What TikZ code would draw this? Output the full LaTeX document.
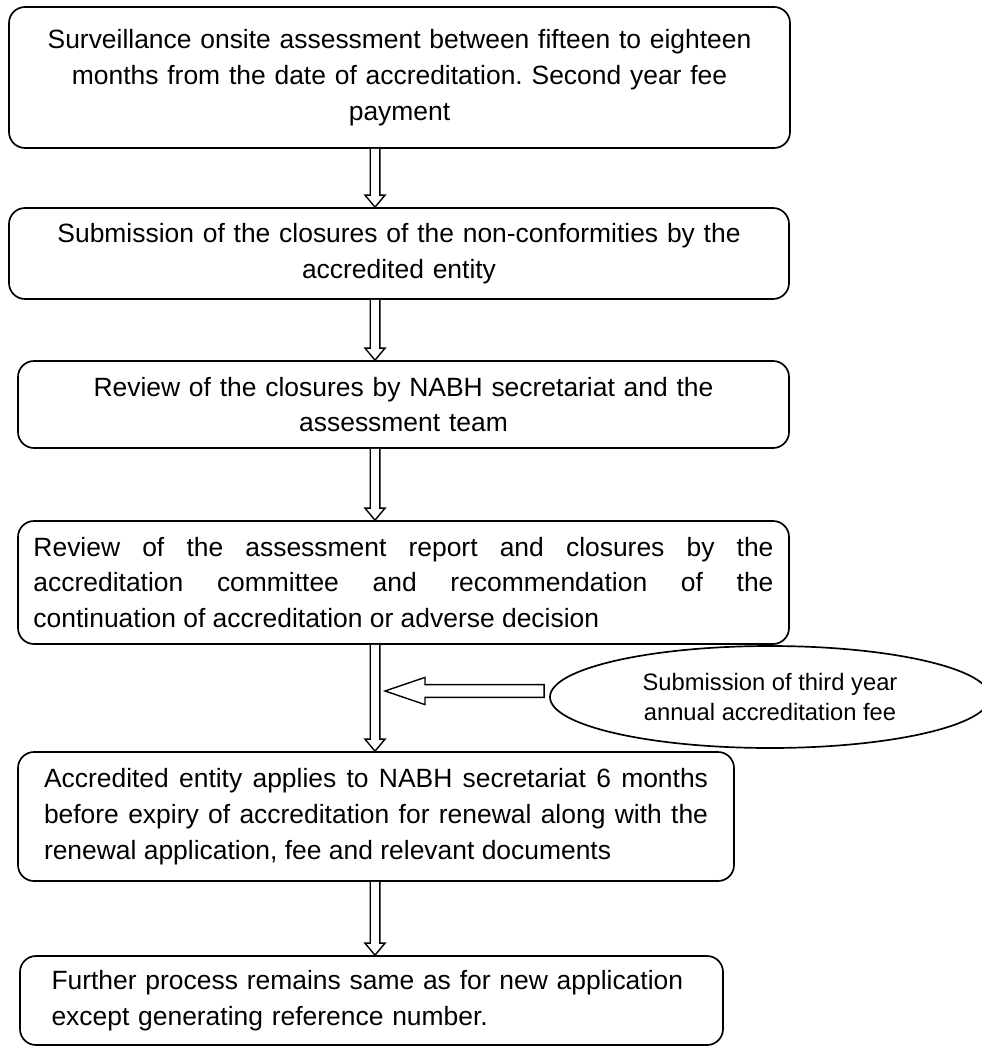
\documentclass[tikz,border=0pt]{standalone}
\usepackage{fontspec}
\setmainfont{Liberation Sans}
\usetikzlibrary{calc,shapes.geometric}
\tolerance=10000
\frenchspacing

\tikzset{
  stage/.style={draw, line width=1.2pt, rounded corners=0.4cm, inner sep=0pt,
    font=\fontsize{18.8pt}{25.5pt}\selectfont},
  feenote/.style={draw, ellipse, line width=1.2pt, inner sep=0pt, align=center,
    minimum width=11cm, minimum height=2.55cm,
    font=\fontsize{16.9pt}{21.3pt}\selectfont},
  hollow/.style={draw, line width=1pt, fill=white}
}

% hollow block arrows: from #1 down to #2, and from #1 left to #2
\newcommand{\blockdown}[2]{%
  \draw[hollow] let \p1=(#1), \p2=(#2) in
    (\x1-1.2mm,\y1) -- (\x1-1.2mm,\y2+3mm) -- (\x1-2.5mm,\y2+3mm) -- (\x1,\y2)
    -- (\x1+2.5mm,\y2+3mm) -- (\x1+1.2mm,\y2+3mm) -- (\x1+1.2mm,\y1);}
\newcommand{\blockleft}[2]{%
  \draw[hollow] let \p1=(#1), \p2=(#2) in
    (\x1,\y2+1.6mm) -- (\x2+10mm,\y2+1.6mm) -- (\x2+10mm,\y2+3.4mm) -- (\x2,\y2)
    -- (\x2+10mm,\y2-3.4mm) -- (\x2+10mm,\y2-1.6mm) -- (\x1,\y2-1.6mm) -- cycle;}

\begin{document}
\begin{tikzpicture}
    \useasboundingbox (0,0) rectangle (24.525,-26.275);

    % nodes (stages)
    \node[stage, minimum width=19.525cm, minimum height=3.525cm, text width=18.5cm, align=center]
      (surv) at (9.9875,-1.9375) {Surveillance onsite assessment between fifteen to eighteen\\ months from the date of accreditation. Second year fee\\ payment};
    \node[stage, minimum width=19.5cm, minimum height=2.275cm, text width=18.5cm, align=center]
      (subm) at (9.975,-6.3375) {Submission of the closures of the non-conformities by the\\ accredited entity};
    \node[stage, minimum width=19.275cm, minimum height=2.175cm, text width=18.5cm, align=center]
      (closrev) at (10.0875,-10.1125) {Review of the closures by NABH secretariat and the\\ assessment team};
    \node[stage, minimum width=19.275cm, minimum height=3.075cm, text width=18.5cm, align=justify]
      (comm) at (10.0875,-14.5625) {Review of the assessment report and closures by the\linebreak accreditation committee and recommendation of the\linebreak continuation of accreditation or adverse decision};
    \node[stage, minimum width=17.9cm, minimum height=3.225cm, text width=16.6cm, align=justify]
      (renew) at (9.4,-20.4125) {Accredited entity applies to NABH secretariat 6 months\linebreak before expiry of accreditation for renewal along with the\linebreak renewal application, fee and relevant documents};
    \node[stage, minimum width=17.575cm, minimum height=2.225cm, text width=16cm, align=left]
      (further) at (9.2875,-25.0125) {Further process remains same as for new application\\ except generating reference number.};
    \node[feenote] (fee) at (19.25,-17.425) {Submission of third year\\ annual accreditation fee};

    \coordinate (axis) at (9.375,0);
    \coordinate (feetip) at (9.625,-17.275);

    % edges
    \blockdown{surv.south -| axis}{subm.north -| axis} % surv -> subm
    \blockdown{subm.south -| axis}{closrev.north -| axis} % subm -> closrev
    \blockdown{closrev.south -| axis}{comm.north -| axis} % closrev -> comm
    \blockdown{comm.south -| axis}{renew.north -| axis} % comm -> renew
    \blockdown{renew.south -| axis}{further.north -| axis} % renew -> further
    \blockleft{$(feetip -| fee.west)+(-0.125,0)$}{feetip} % fee -> arrow

\end{tikzpicture}
\end{document}
